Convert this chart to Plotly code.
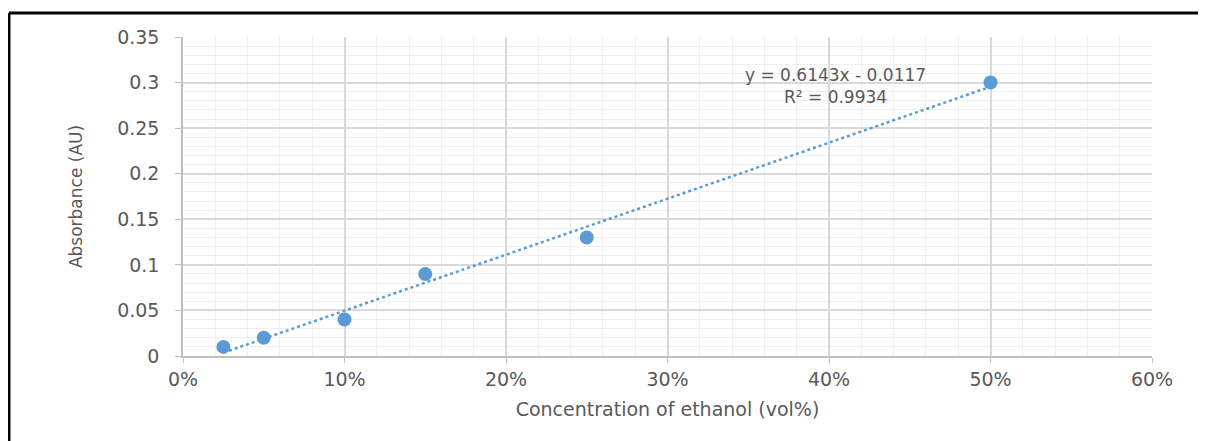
import plotly.graph_objects as go

# Data
conc = [0.025, 0.05, 0.10, 0.15, 0.25, 0.50]
absorb = [0.01, 0.02, 0.04, 0.09, 0.13, 0.30]
slope = 0.6143
intercept = -0.0117
eq_text = "y = 0.6143x - 0.0117<br>R² = 0.9934"

x_tickvals = [0, 0.1, 0.2, 0.3, 0.4, 0.5, 0.6]
y_tickvals = [0, 0.05, 0.1, 0.15, 0.2, 0.25, 0.3, 0.35]
y_ticktext = ["0", "0.05", "0.1", "0.15", "0.2", "0.25", "0.3", "0.35"]

blue = "#5b9bd5"
txt = "#595959"
font = "DejaVu Sans"

tx = [min(conc), max(conc)]
ty = [slope * v + intercept for v in tx]

fig = go.Figure()
fig.add_trace(go.Scatter(x=tx, y=ty, mode="lines",
                         line=dict(color=blue, width=2.5, dash="dot"),
                         hoverinfo="skip", showlegend=False))
fig.add_trace(go.Scatter(x=conc, y=absorb, mode="markers",
                         marker=dict(color=blue, size=14),
                         showlegend=False))

fig.add_annotation(x=0.404, y=0.296, xref="x", yref="y", text=eq_text,
                   showarrow=False, align="center",
                   font=dict(family=font, size=17, color=txt))

fig.update_xaxes(range=[0, 0.6], tickvals=x_tickvals, tickformat=".0%",
                 showgrid=True, gridcolor="#d9d9d9", gridwidth=1.5,
                 minor=dict(dtick=0.02, showgrid=True, gridcolor="#efefef", gridwidth=1),
                 showline=True, linecolor="#bfbfbf", linewidth=1.5,
                 ticks="outside", ticklen=5, tickcolor="#bfbfbf",
                 zeroline=False,
                 tickfont=dict(family=font, size=19, color=txt),
                 title=dict(text="Concentration of ethanol (vol%)",
                            font=dict(family=font, size=19, color=txt), standoff=14))
fig.update_yaxes(range=[0, 0.35], tickvals=y_tickvals, ticktext=y_ticktext,
                 showgrid=True, gridcolor="#d9d9d9", gridwidth=1.5,
                 minor=dict(dtick=0.01, showgrid=True, gridcolor="#efefef", gridwidth=1),
                 showline=True, linecolor="#bfbfbf", linewidth=1.5,
                 ticks="outside", ticklen=6, tickcolor="#bfbfbf",
                 zeroline=False, ticklabelstandoff=12,
                 tickfont=dict(family=font, size=19, color=txt),
                 title=dict(text="Absorbance (AU)",
                            font=dict(family=font, size=17, color=txt), standoff=30))

# Outer frame (left and top black lines)
fig.add_shape(type="line", xref="paper", yref="paper",
              x0=-0.1796, x1=1.1, y0=1.0752, y1=1.0752,
              line=dict(color="black", width=3))
fig.add_shape(type="line", xref="paper", yref="paper",
              x0=-0.1796, x1=-0.1796, y0=1.0752, y1=-0.35,
              line=dict(color="black", width=3))

fig.update_layout(width=1206, height=441,
                  margin=dict(l=175, r=62, t=29, b=93),
                  paper_bgcolor="white", plot_bgcolor="white")

fig.write_html("out.html")
